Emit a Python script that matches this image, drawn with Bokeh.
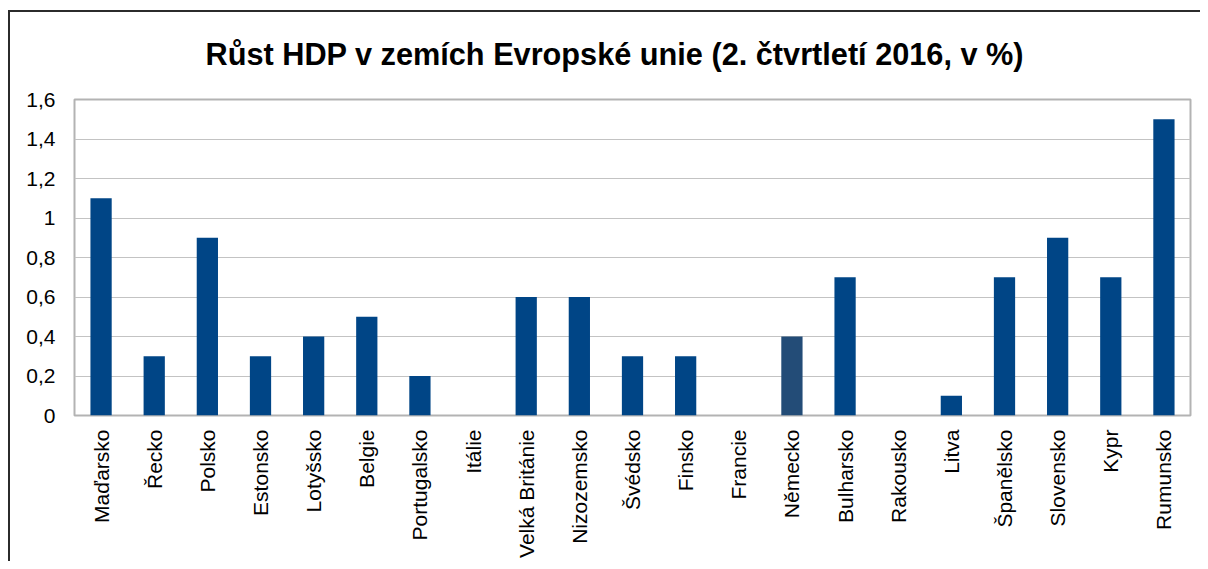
from bokeh.plotting import figure
from bokeh.models import FixedTicker, ColumnDataSource, Range1d
from bokeh.embed import file_html
from bokeh.resources import INLINE

countries = ["Maďarsko", "Řecko", "Polsko", "Estonsko", "Lotyšsko", "Belgie", "Portugalsko",
             "Itálie", "Velká Británie", "Nizozemsko", "Švédsko", "Finsko", "Francie",
             "Německo", "Bulharsko", "Rakousko", "Litva", "Španělsko", "Slovensko", "Kypr",
             "Rumunsko"]
growth = [1.1, 0.3, 0.9, 0.3, 0.4, 0.5, 0.2, 0.0, 0.6, 0.6, 0.3, 0.3, 0.0, 0.4, 0.7, 0.0,
          0.1, 0.7, 0.9, 0.7, 1.5]
y_ticks = [0, 0.2, 0.4, 0.6, 0.8, 1.0, 1.2, 1.4, 1.6]
y_tick_labels = ["0", "0,2", "0,4", "0,6", "0,8", "1", "1,2", "1,4", "1,6"]

base_color = "#004586"
highlight_color = "#234c77"
colors = [highlight_color if c == "Německo" else base_color for c in countries]

source = ColumnDataSource(dict(x=countries, top=growth, color=colors))

p = figure(x_range=countries, y_range=Range1d(0, 1.6), width=1200, height=561,
           output_backend="svg", toolbar_location=None,
           title="Růst HDP v zemích Evropské unie (2. čtvrtletí 2016, v %)",
           min_border_left=74, min_border_right=10, min_border_top=99, min_border_bottom=146)

p.vbar(x="x", top="top", width=0.4, fill_color="color", line_color=None, source=source)

p.title.align = "left"
p.title.offset = 131
p.title.text_font = "Liberation Sans"
p.title.text_font_size = "30.7px"
p.title.text_font_style = "bold"
p.title.text_color = "#000000"
p.title.standoff = 56

p.background_fill_color = "white"
p.border_fill_color = None
p.outline_line_color = "#b3b3b3"
p.outline_line_width = 2

p.xgrid.grid_line_color = None
p.ygrid.grid_line_color = "#c3c3c3"
p.ygrid.grid_line_width = 1

p.yaxis.ticker = FixedTicker(ticks=y_ticks)
p.yaxis.major_label_overrides = {t: l for t, l in zip(y_ticks, y_tick_labels)}
for ax in (p.xaxis, p.yaxis):
    ax.axis_line_color = None
    ax.major_tick_line_color = None
    ax.minor_tick_line_color = None
    ax.major_label_text_font = "Liberation Sans"
    ax.major_label_text_font_size = "21px"
    ax.major_label_text_color = "#000000"
p.yaxis.major_label_standoff = 13
p.xaxis.major_label_standoff = 8
p.xaxis.major_label_orientation = 1.5707963267948966
p.x_range.range_padding = 0.0

# outer chart border (runs off the visible area to the right and bottom)
line = "linear-gradient(#2b2b2b, #2b2b2b)"
p.styles = {
    "background": f"{line} no-repeat 8px 10px / 2px 100%, {line} no-repeat 8px 10px / 100% 2px, #ffffff",
}

open("out.html", "w").write(file_html(p, INLINE))
